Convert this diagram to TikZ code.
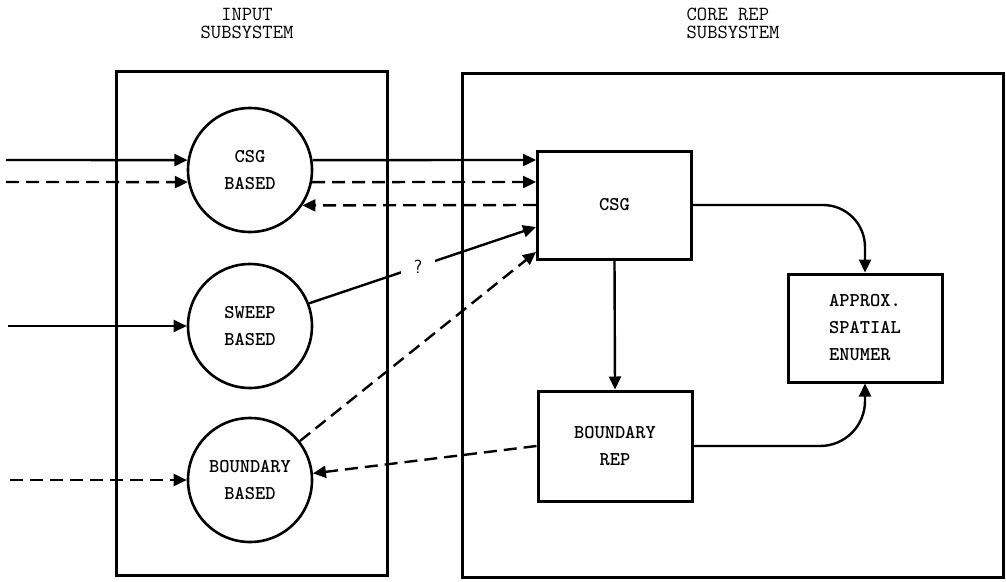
\documentclass[tikz,border=0pt]{standalone}
\usetikzlibrary{arrows.meta}
\begin{document}
\begin{tikzpicture}[x=1pt,y=-1pt,
  lbl/.style={font=\fontsize{19.5}{27}\selectfont\ttfamily\bfseries, align=center},
  ttl/.style={font=\fontsize{20}{18}\selectfont\ttfamily},
  frame/.style={draw, line width=3pt, inner sep=0pt},
  circ/.style={circle, draw, line width=2.6pt, minimum size=124pt, inner sep=0pt, lbl},
  blk/.style={rectangle, draw, line width=3pt, minimum width=154pt, minimum height=108pt, inner sep=0pt, lbl},
  conn/.style={line width=2.4pt, -{Triangle[length=13pt,width=12pt]}},
  dsh/.style={dash pattern=on 13pt off 7pt}]
\useasboundingbox (0,0) rectangle (1006,581);
% subsystem frames
\node[frame, minimum width=271pt, minimum height=504pt] (inbox) at (251.5,323) {};
\node[frame, minimum width=541pt, minimum height=504pt] (corebox) at (732.5,325) {};
% titles
\node[ttl, align=center] (t1) at (247,24) {INPUT\\SUBSYSTEM};
\node[ttl, align=left] (t2) at (733,23) {CORE REP\\SUBSYSTEM};
% input circles
\node[circ] (csgb) at (250,170) {CSG\\BASED};
\node[circ] (swp) at (250,326) {SWEEP\\BASED};
\node[circ] (bnd) at (250,480) {BOUNDARY\\BASED};
% core blocks
\node[blk] (csg) at (614.5,205) {CSG};
\node[blk, minimum height=110pt] (brep) at (615,446) {BOUNDARY\\REP};
\node[blk, align=left] (approx) at (865,328) {APPROX.\\SPATIAL\\ENUMER};
% free input ends
\coordinate (i1) at (6,160);
\coordinate (i2) at (6,182);
\coordinate (i3) at (8,326);
\coordinate (i4) at (10,480);
% inputs
\draw[conn] (i1) -- (csgb.171);
\draw[conn,dsh] (i2) -- (csgb.-169);
\draw[conn] (i3) -- (swp.west);
\draw[conn,dsh] (i4) -- (bnd.west);
% csg based <-> csg
\draw[conn] (csgb.9) -- ([yshift=45pt]csg.west);
\draw[conn,dsh] (csgb.-11) -- ([yshift=23pt]csg.west);
\draw[conn,dsh] (csg.west) -- (csgb.-34);
% sweep -> csg with question
\draw[conn] (swp.21) -- node[pos=0.48, fill=white, minimum width=34pt, minimum height=20pt, inner sep=0pt, font=\fontsize{19}{20}\selectfont\sffamily] (q) {?} ([yshift=-22pt]csg.west);
% boundary based <-> csg / brep
\draw[conn,dsh] (bnd.38) -- ([yshift=-47pt]csg.west);
\draw[conn,dsh] (brep.west) -- (bnd.6);
% core internal
\draw[conn] (csg.south) -- (brep.north);
\draw[conn, rounded corners=42pt] (csg.east) -| (approx.north);
\draw[conn, rounded corners=45pt] (brep.east) -| (approx.south);
\end{tikzpicture}
\end{document}
